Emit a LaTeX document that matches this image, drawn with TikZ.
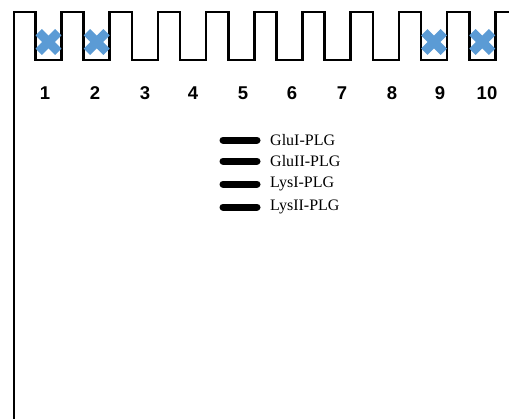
\documentclass[tikz,border=0pt]{standalone}
\usepackage{fontspec}
\setmainfont{Liberation Serif}
\newfontfamily\numfont{Liberation Sans}
\definecolor{xblue}{HTML}{5B9BD5}
\begin{document}
\begin{tikzpicture}[x=1pt,y=-1pt,
  wall/.style={line width=2.7pt,black,line join=miter},
  xarm/.style={line width=9pt,xblue,line cap=butt},
  lanenum/.style={font=\numfont\bfseries\fontsize{18.5}{20}\selectfont,inner sep=0pt},
  legbar/.style={line width=7pt,black,line cap=round},
  legtext/.style={font=\fontsize{16}{18}\selectfont,anchor=west,inner sep=0pt}]
\useasboundingbox (0,0) rectangle (509,418);
% comb outline
\draw[wall] (14,420) -- (14,12)
  \foreach \k in {1,...,10}{
    -- ({35.5+(\k-1)*48.2},12) -- ({35.5+(\k-1)*48.2},60)
    -- ({61.5+(\k-1)*48.2},60) -- ({61.5+(\k-1)*48.2},12)}
  -- (512,12);
% crosses
\foreach \k in {1,2,9,10}{
  \pgfmathsetmacro\cx{48.5+(\k-1)*48.2}
  \draw[xarm] (\cx-9.8,32.2) -- (\cx+9.8,51.8);
  \draw[xarm] (\cx-9.8,51.8) -- (\cx+9.8,32.2);
}
% lane numbers
\foreach \n/\x in {1/45,2/95,3/145,4/193,5/243,6/292,7/342,8/392,9/440,10/487}{
  \node[lanenum] (n\n) at (\x,93) {\n};
}
% legend
\foreach \i/\y/\t in {a/140/GluI-PLG,b/161/GluII-PLG,c/184/LysI-PLG,d/207/LysII-PLG}{
  \coordinate (b\i l) at (223,\y);
  \coordinate (b\i r) at (257,\y);
  \draw[legbar] (b\i l) -- (b\i r);
  \node[legtext] (t\i) at (270,\y) {\t};
}
\end{tikzpicture}
\end{document}
